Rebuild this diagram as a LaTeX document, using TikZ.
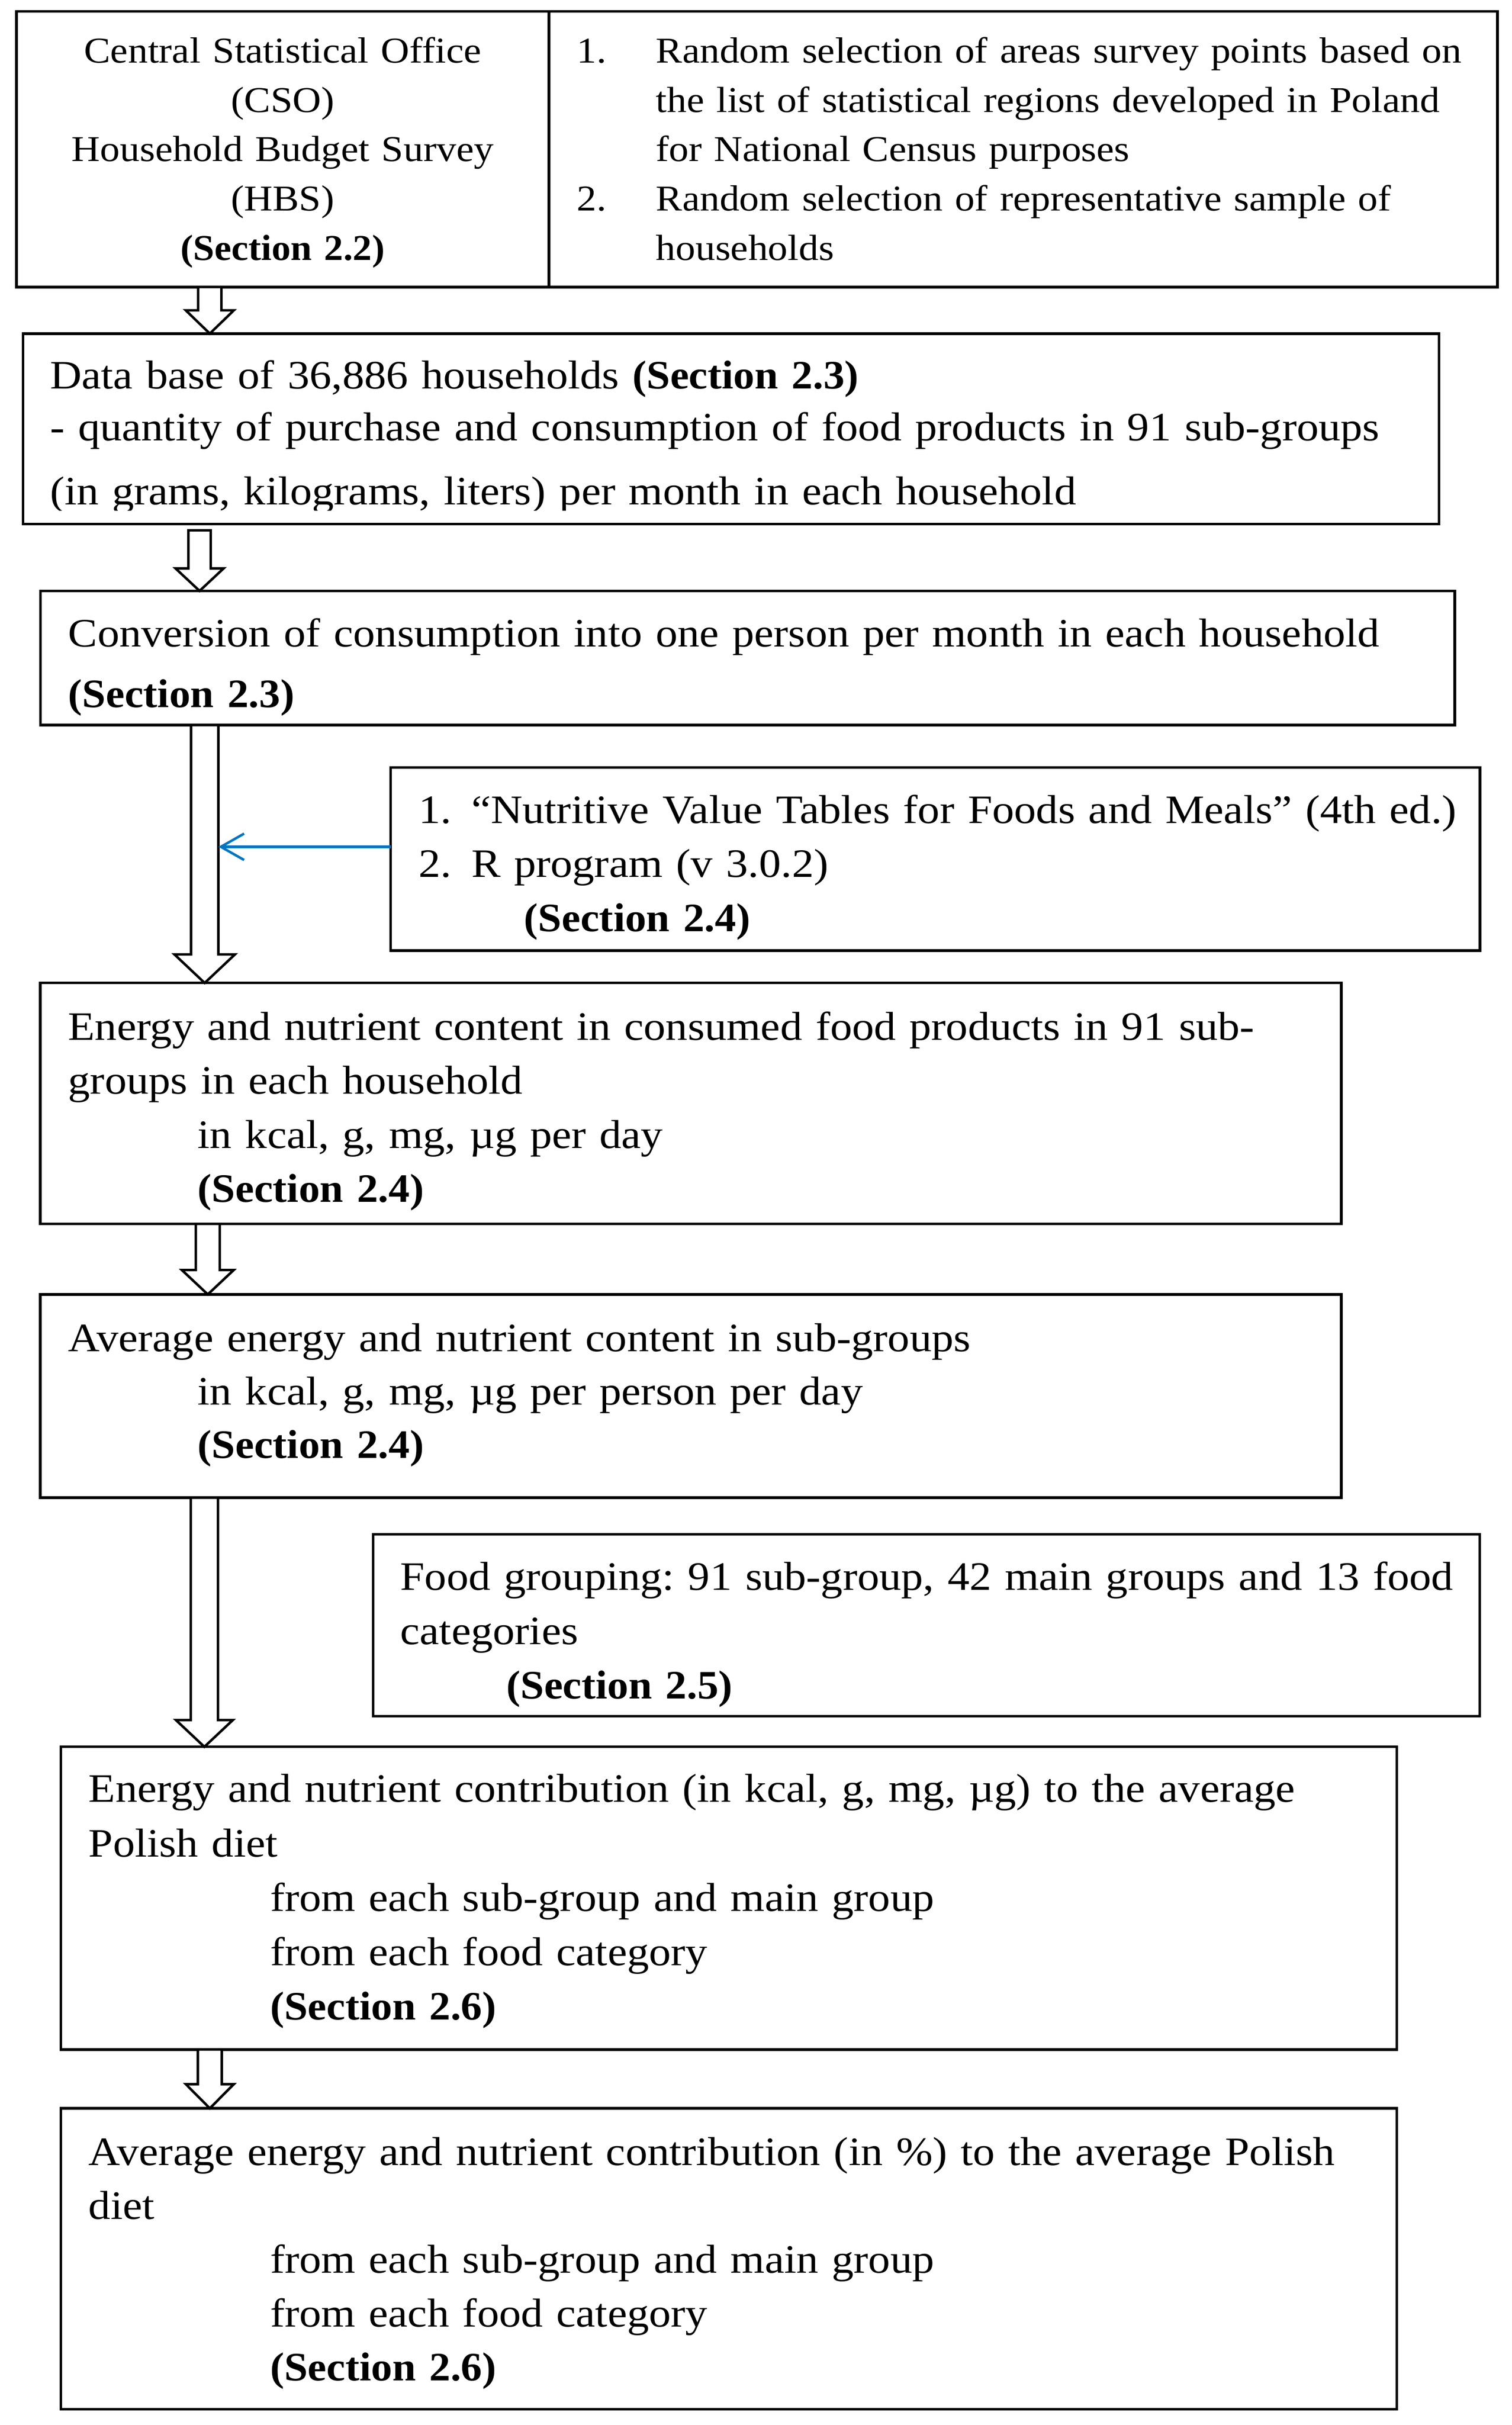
\documentclass[tikz,border=0pt]{standalone}
\usepackage{fontspec}
\setmainfont{Liberation Serif}[FakeStretch=1.088, BoldFeatures={FakeStretch=1.05}]
\usetikzlibrary{arrows.meta,calc}
\definecolor{arrowblue}{RGB}{0,118,194}
\newcommand\mainsz[1]{\fontsize{26}{#1}\selectfont\frenchspacing}
\newcommand\topsz{\fontsize{23.45}{31.8}\selectfont\frenchspacing}
\tikzset{
  box/.style={draw=black, line width=1.7pt, rectangle, inner sep=0pt, outer sep=0pt},
  txt/.style={anchor=base west, inner sep=0pt, outer sep=0pt, text width=920pt, align=left},
  blockarrow/.style n args={3}{draw=black, fill=white, line width=1.6pt, line join=miter,
    to path={let \p1=(\tikztostart), \p2=(\tikztotarget) in
      (\x2-#1pt,\y1) -- (\x2-#1pt,\y2+#3pt) -- (\x2-#2pt,\y2+#3pt) -- (\x2,\y2)
      -- (\x2+#2pt,\y2+#3pt) -- (\x2+#1pt,\y2+#3pt) -- (\x2+#1pt,\y1) -- cycle}},
  bluearrow/.style={draw=arrowblue, line width=1.8pt,
    -{Straight Barb[length=15pt, width=17pt, line width=1.6pt]}}
}
\begin{document}
\begin{tikzpicture}[x=1pt, y=-1pt]
\useasboundingbox[fill=white] (0,0) rectangle (975,1563.6);

% boxes
\node[box, minimum width=955pt, minimum height=177.7pt, anchor=north west] (b1) at (10.6,7.4) {};
\coordinate (dv) at (354,0);
\draw[line width=1.7pt] (dv |- b1.north) -- (dv |- b1.south);
\node[box, minimum width=913pt, minimum height=122.8pt, anchor=north west] (b2) at (14.9,215.1) {};
\node[box, minimum width=912pt, minimum height=86.5pt, anchor=north west] (b3) at (26.1,381) {};
\node[box, minimum width=702.5pt, minimum height=118pt, anchor=north west] (b4) at (251.9,494.9) {};
\node[box, minimum width=839pt, minimum height=155.3pt, anchor=north west] (b5) at (26,633.8) {};
\node[box, minimum width=839pt, minimum height=131.1pt, anchor=north west] (b6) at (26,834.6) {};
\node[box, minimum width=713.5pt, minimum height=117.3pt, anchor=north west] (b7) at (240.7,989.3) {};
\node[box, minimum width=861.5pt, minimum height=195.2pt, anchor=north west] (b8) at (39.2,1126.3) {};
\node[box, minimum width=861.5pt, minimum height=194pt, anchor=north west] (b9) at (39.2,1359.4) {};

% texts
\node[anchor=base, inner sep=0pt, text width=330pt, align=center, font=\topsz] (t1a) at (182.3,40.5)
  {Central Statistical Office\\(CSO)\\Household Budget Survey\\(HBS)\\\textbf{(Section 2.2)}};
\node[txt, text width=600pt, font=\topsz] (t1b) at (372,40.5)
  {\makebox[51pt][l]{1.}Random selection of areas survey points based on\\
   \hspace*{51pt}the list of statistical regions developed in Poland\\
   \hspace*{51pt}for National Census purposes\\
   \makebox[51pt][l]{2.}Random selection of representative sample of\\
   \hspace*{51pt}households};
\begin{scope}
\clip (b2.north west) rectangle ($(b2.east)+(0,329-276.5)$);
\node[txt, font=\mainsz{33.7}] (t2) at (32.3,250.5)
  {Data base of 36,886 households \textbf{(Section 2.3)}\\
   - quantity of purchase and consumption of food products in 91 sub-groups\\[7.6pt]
   (in grams, kilograms, liters) per month in each household};
\end{scope}
\node[txt, font=\mainsz{35}] (t3) at (44,417)
  {Conversion of consumption into one person per month in each household\\[4pt]
   \textbf{(Section 2.3)}};
\node[txt, font=\mainsz{35}] (t4) at (270,530.7)
  {\makebox[34pt][l]{1.}“Nutritive Value Tables for Foods and Meals” (4th ed.)\\
   \makebox[34pt][l]{2.}R program (v 3.0.2)\\
   \hspace*{68pt}\textbf{(Section 2.4)}};
\node[txt, font=\mainsz{34.8}] (t5) at (44,670.6)
  {Energy and nutrient content in consumed food products in 91 sub-\\
   groups in each household\\
   \hspace*{83.5pt}in kcal, g, mg, µg per day\\
   \hspace*{83.5pt}\textbf{(Section 2.4)}};
\node[txt, font=\mainsz{34.4}] (t6) at (44,871.5)
  {Average energy and nutrient content in sub-groups\\
   \hspace*{83.5pt}in kcal, g, mg, µg per person per day\\
   \hspace*{83.5pt}\textbf{(Section 2.4)}};
\node[txt, font=\mainsz{35}] (t7) at (258.2,1025.3)
  {Food grouping: 91 sub-group, 42 main groups and 13 food\\
   categories\\
   \hspace*{68.4pt}\textbf{(Section 2.5)}};
\node[txt, font=\mainsz{35.1}] (t8) at (57.2,1162)
  {Energy and nutrient contribution (in kcal, g, mg, µg) to the average\\
   Polish diet\\
   \hspace*{117pt}from each sub-group and main group\\
   \hspace*{117pt}from each food category\\
   \hspace*{117pt}\textbf{(Section 2.6)}};
\node[txt, font=\mainsz{34.75}] (t9) at (57.2,1396)
  {Average energy and nutrient contribution (in \%) to the average Polish\\
   diet\\
   \hspace*{117pt}from each sub-group and main group\\
   \hspace*{117pt}from each food category\\
   \hspace*{117pt}\textbf{(Section 2.6)}};

% block arrows
\coordinate (ax1) at (135.3,0);
\coordinate (ax2) at (128.7,0);
\coordinate (ax3) at (132,0);
\coordinate (ax4) at (134,0);
\coordinate (ax5) at (131.8,0);
\coordinate (ax6) at (135.3,0);
\draw[blockarrow={7.5}{15.5}{15}] (ax1 |- b1.south) to (ax1 |- b2.north);
\draw[blockarrow={7.2}{15.5}{14.5}] ($(ax2 |- b2.south)+(0,4)$) to (ax2 |- b3.north);
\draw[blockarrow={8.8}{19.5}{18.4}] (ax3 |- b3.south) to (ax3 |- b5.north);
\draw[blockarrow={7.7}{16.7}{15.7}] (ax4 |- b5.south) to (ax4 |- b6.north);
\draw[blockarrow={8.8}{18.3}{17.2}] (ax5 |- b6.south) to (ax5 |- b8.north);
\draw[blockarrow={7.7}{15.5}{15.6}] (ax6 |- b8.south) to (ax6 |- b9.north);

% blue arrow
\coordinate (bt) at (140.8,546);
\draw[bluearrow] (b4.west |- bt) -- (bt);
\end{tikzpicture}
\end{document}
